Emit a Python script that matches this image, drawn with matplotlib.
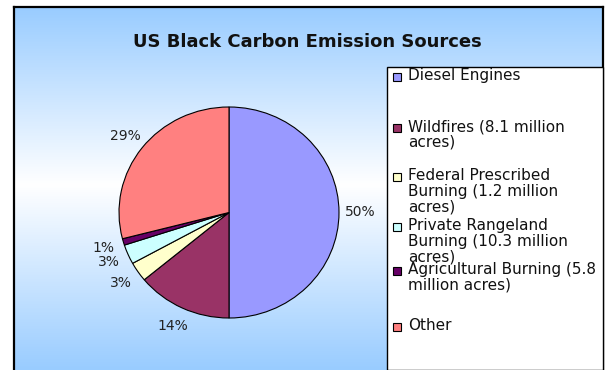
import numpy as np
import matplotlib
matplotlib.use("Agg")
import matplotlib.pyplot as plt
from matplotlib.colors import LinearSegmentedColormap
from matplotlib.patches import Rectangle

title = "US Black Carbon Emission Sources"
labels = ["Diesel Engines",
          "Wildfires (8.1 million\nacres)",
          "Federal Prescribed\nBurning (1.2 million\nacres)",
          "Private Rangeland\nBurning (10.3 million\nacres)",
          "Agricultural Burning (5.8\nmillion acres)",
          "Other"]
values = [50, 14, 3, 3, 1, 29]
colors = ["#9999FF", "#993366", "#FFFFCC", "#CCFFFF", "#660066", "#FF8080"]

W, H = 608, 370
fig = plt.figure(figsize=(W / 100, H / 100), dpi=100)
fig.patch.set_facecolor("white")

def fx(x): return x / W
def fy(y): return 1 - y / H

# chart area background gradient
bg = fig.add_axes([fx(14), 0, fx(603) - fx(14), fy(7)])
cmap = LinearSegmentedColormap.from_list("g", [(0, "#99CCFF"), (0.49, "#FFFFFF"), (1, "#99CCFF")])
grad = np.linspace(0, 1, 256).reshape(-1, 1)
bg.imshow(grad, aspect="auto", cmap=cmap, extent=[0, 1, 0, 1], origin="upper")
bg.set_xlim(0, 1); bg.set_ylim(0, 1)
bg.set_xticks([]); bg.set_yticks([])
bg.spines["bottom"].set_visible(False)
for s in ["left", "top", "right"]:
    bg.spines[s].set_linewidth(1.6)
    bg.spines[s].set_color("black")

# title
fig.text(fx(307), fy(42), title, ha="center", va="center",
         fontsize=13, fontweight="bold", color="#111111")

# pie (slightly wider than tall, as in the reference)
cx, cy, RX, RY = 229, 212.5, 110, 105.5
k = 1.3
ax = fig.add_axes([fx(cx - k * RX), fy(cy + k * RY), 2 * k * RX / W, 2 * k * RY / H])
ax.set_axis_off()
wedges, texts, autotexts = ax.pie(values, colors=colors, startangle=90, counterclock=False,
                                  autopct="%d%%", pctdistance=1.19,
                                  wedgeprops=dict(edgecolor="black", linewidth=0.8),
                                  textprops=dict(fontsize=10, color="#222222"))
ax.set_aspect("auto")
ax.set_xlim(-k, k); ax.set_ylim(-k, k)

# legend box
lx0, ly0 = 387, 67
leg = Rectangle((fx(lx0), 0), fx(603) - fx(lx0), fy(ly0), transform=fig.transFigure,
                facecolor="white", edgecolor="black", linewidth=1.0, zorder=3)
fig.add_artist(leg)
entry_y = [77, 128, 177, 227, 271, 327]
for lab, col, y in zip(labels, colors, entry_y):
    fig.add_artist(Rectangle((fx(393), fy(y + 4)), 8 / W, 8 / H, transform=fig.transFigure,
                             facecolor=col, edgecolor="black", linewidth=0.8, zorder=4))
    fig.text(fx(408), fy(y - 9), lab, ha="left", va="top", fontsize=11,
             linespacing=1.08, color="#111111", zorder=5)

fig.savefig("out.png", dpi=100)
